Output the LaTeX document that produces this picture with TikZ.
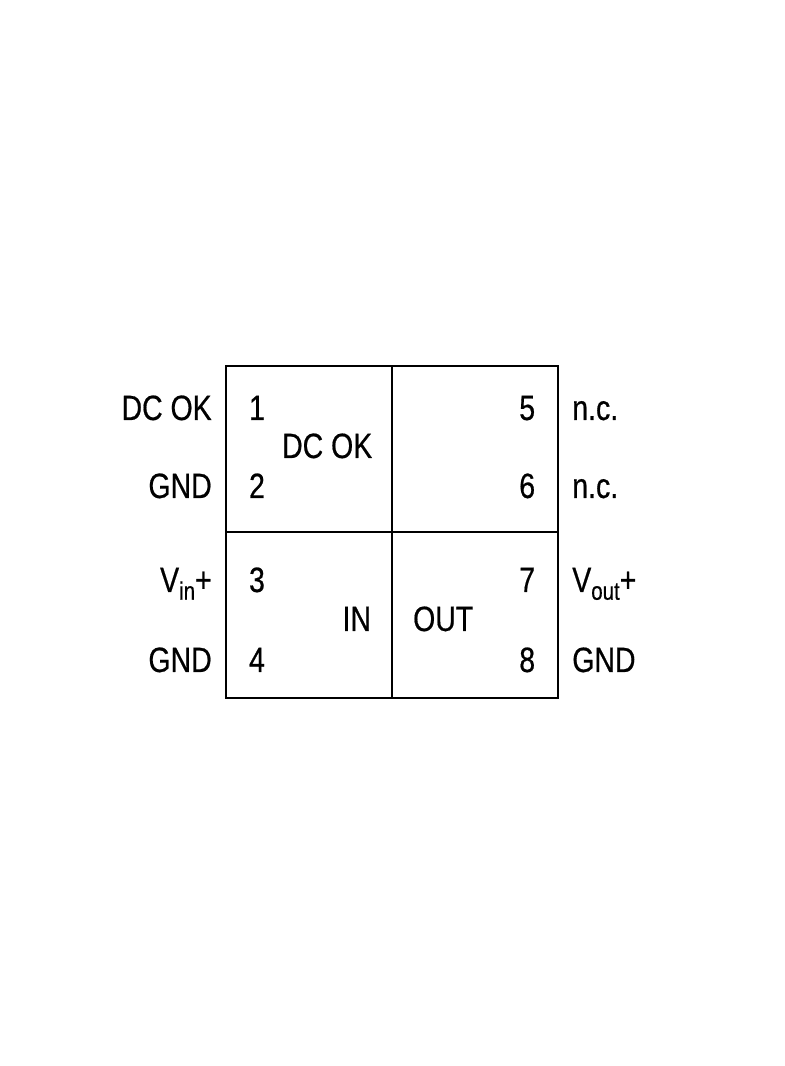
\documentclass[tikz,border=0pt]{standalone}
\usepackage{fontspec}
\setmainfont{Liberation Sans}[FakeStretch=0.81,FakeBold=0.5]
\newcommand{\pinsub}[1]{\raisebox{-5.5pt}{\fontsize{18}{20}\selectfont #1}}

\begin{document}
\begin{tikzpicture}[every node/.style={font=\fontsize{25}{29}\selectfont, inner sep=0pt, anchor=base}]
        \useasboundingbox (0,0) rectangle (19.6,26.65);

        \coordinate (BL) at (5.65,9.2);
        \coordinate (TR) at (13.95,17.5);
        \coordinate (ML) at (5.65,13.35);
        \coordinate (MR) at (13.95,13.35);
        \coordinate (MT) at (9.8,17.5);
        \coordinate (MB) at (9.8,9.2);
        \draw[line width=1.5pt] (BL) rectangle (TR);
        \draw[line width=1.5pt] (ML) -- (MR);
        \draw[line width=1.5pt] (MT) -- (MB);

        % left side
        \node[anchor=base east] (dcokl) at (5.3,16.15) {DC OK};
        \node[anchor=base east] (gndl1) at (5.3,14.2) {GND};
        \node[anchor=base east] (vin) at (5.3,11.85) {V\pinsub{in}+};
        \node[anchor=base east] (gndl2) at (5.3,9.85) {GND};

        \node (p1) at (6.425,16.15) {1};
        \node (p2) at (6.425,14.2) {2};
        \node (p3) at (6.425,11.85) {3};
        \node (p4) at (6.425,9.85) {4};

        \node (dcok) at (8.18,15.2) {DC OK};
        \node (in) at (8.92,10.875) {IN};

        % right side
        \node (p5) at (13.18,16.15) {5};
        \node (p6) at (13.18,14.2) {6};
        \node (p7) at (13.18,11.85) {7};
        \node (p8) at (13.18,9.85) {8};

        \node (out) at (11.08,10.875) {OUT};

        \node[anchor=base west] (nc1) at (14.3,16.15) {n.c.};
        \node[anchor=base west] (nc2) at (14.3,14.2) {n.c.};
        \node[anchor=base west] (vout) at (14.3,11.85) {V\pinsub{out}+};
        \node[anchor=base west] (gndr) at (14.3,9.85) {GND};

    \end{tikzpicture}
\end{document}
